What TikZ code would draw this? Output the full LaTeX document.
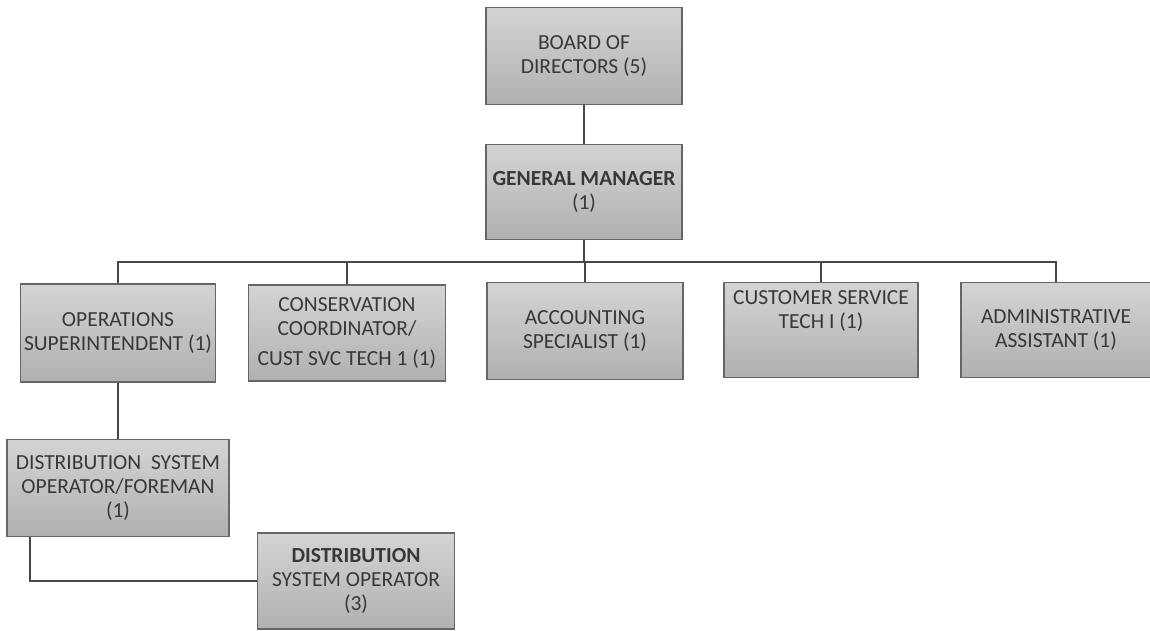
\documentclass[tikz,border=0pt]{standalone}
\usepackage{fontspec}
\setmainfont{Carlito}
\definecolor{boxtop}{HTML}{D4D4D4}
\definecolor{boxbot}{HTML}{B0B0B0}
\definecolor{boxedge}{HTML}{666666}
\definecolor{ink}{HTML}{383838}
\definecolor{wire}{HTML}{484848}
\tikzset{
  box/.style={draw=boxedge, line width=1.3pt, top color=boxtop, bottom color=boxbot,
    minimum width=#1, minimum height=96pt, align=center, text=ink, inner sep=3pt,
    font=\fontsize{21.5}{24}\selectfont},
  box/.default=196pt,
  wire/.style={draw=wire, line width=1.8pt}
}
\begin{document}
\begin{tikzpicture}[x=1pt, y=-1pt]
\useasboundingbox (0,0) rectangle (1150,630);
\fill[white] (0,0) rectangle (1150,630);

% top of the chart
\node[box, minimum height=97pt] (board) at (584,56) {BOARD OF\\DIRECTORS (5)};
\node[box, minimum height=95pt] (gm) at (584,192) {\textbf{GENERAL MANAGER}\\(1)};

% staff reporting to the general manager
\node[box=195pt, minimum height=98pt] (ops) at (118,333) {OPERATIONS\\SUPERINTENDENT (1)};
\node[box=197pt] (cons) at (347,333) {CONSERVATION\\COORDINATOR/\\[6pt]CUST SVC TECH 1 (1)};
\node[box, minimum height=97pt] (acct) at (585,331) {ACCOUNTING\\SPECIALIST (1)};
\node[box=194pt, minimum height=95pt, text depth=40pt] (cust) at (821,330) {CUSTOMER SERVICE\\TECH I (1)};
\node[box=190pt, minimum height=95pt] (admin) at (1056,330) {ADMINISTRATIVE\\ASSISTANT (1)};

% field crew
\node[box=222pt, minimum height=97pt] (fore) at (118,488) {DISTRIBUTION\ \ SYSTEM\\OPERATOR/FOREMAN\\(1)};
\node[box=197pt] (dso) at (356,581) {\textbf{DISTRIBUTION}\\SYSTEM OPERATOR\\(3)};

% connectors
\coordinate (bus) at (584,262);
\path[wire] (board.south) -- (gm.north);
\path[wire] (gm.south) -- (bus);
\path[wire] (ops.north) |- (bus) -| (admin.north);
\path[wire] (cons.north) |- (bus);
\path[wire] (acct.north) |- (bus);
\path[wire] (cust.north) |- (bus);
\path[wire] (ops.south) -- (fore.north);
\path[wire] ([xshift=-88pt]fore.south) |- (dso.west);
\end{tikzpicture}
\end{document}
